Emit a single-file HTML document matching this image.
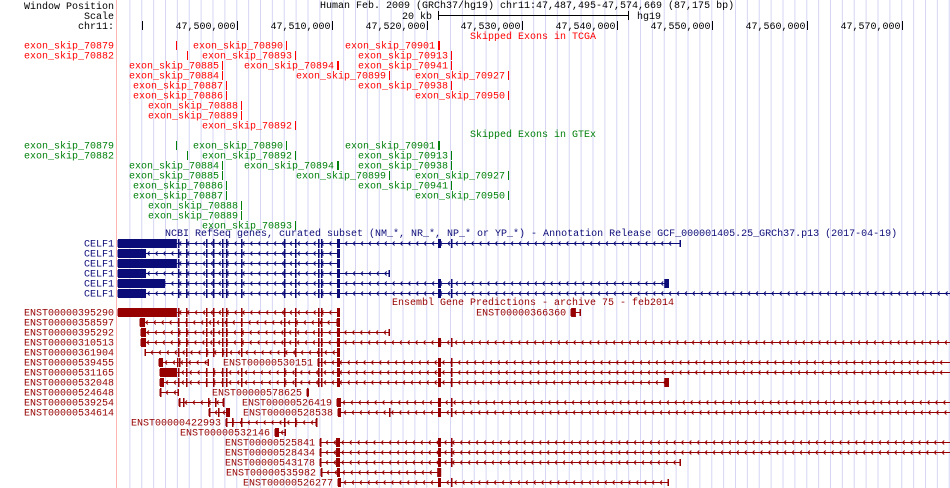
<!DOCTYPE html>
<html><head><meta charset="utf-8">
<style>
html,body{margin:0;padding:0;background:#fff;width:950px;height:488px;overflow:hidden}
svg{display:block}
text{font-family:"Liberation Mono",monospace;font-size:10px}
</style></head>
<body>
<svg id="gb" width="950" height="488" xmlns="http://www.w3.org/2000/svg"></svg>
<script>
// ---- data (genomic coordinates in kb) ----
const rulerTicks=[47500,47510,47520,47530,47540,47550,47560,47570];
const tcgaNames=["70879","70890","70901","70882","70893","70913","70885","70894","70941","70884","70899","70927","70887","70938","70886","70950","70888","70889","70892"];
const tcgaRows=[0,0,0,1,1,1,2,2,2,3,3,3,4,4,5,5,6,7,8];
const tcgaPos=[47493.61,47505.18,47521.18,47494.76,47506.13,47522.55,47498.45,47510.55,47522.55,47498.45,47516.03,47528.55,47498.87,47522.55,47498.87,47528.55,47500.45,47500.45,47506.13];
const gtexNames=["70879","70890","70901","70882","70892","70913","70884","70894","70938","70885","70899","70927","70886","70941","70887","70950","70888","70889","70893"];
const gtexRows=[0,0,0,1,1,1,2,2,2,3,3,3,4,4,5,5,6,7,8];
const gtexPos=[47493.61,47505.18,47521.18,47494.76,47506.13,47522.55,47498.45,47510.55,47522.55,47498.45,47516.03,47528.55,47498.87,47522.55,47498.87,47528.55,47500.45,47500.45,47506.13];
const E=[47493.82,47494.66,47496.76,47497.5,47498.45,47498.87,47500.45,47504.97,47506.13,47508.55,47508.87,47510.55];
const L=[47521.18,47522.55];
const refseq=[
 {n:"CELF1",r:0,s:47487.5,e:47546.65,ts:47487.5,te:47493.7,ex:E.concat(L)},
 {n:"CELF1",r:1,s:47487.5,e:47510.7,ts:47487.5,te:47490.45,ex:E},
 {n:"CELF1",r:2,s:47487.5,e:47510.7,ts:47487.5,te:47493.7,ex:E},
 {n:"CELF1",r:3,s:47487.5,e:47516.03,ts:47487.5,te:47490.45,ex:E},
 {n:"CELF1",r:4,s:47487.5,e:47545.4,ts:47487.5,te:47492.45,ex:E.concat(L),box:[47545.0,47545.5]},
 {n:"CELF1",r:5,s:47487.5,e:47575.2,ts:47487.5,te:47490.45,ex:E.concat(L)}
];
const ensembl=[
 {n:"ENST00000395290",r:0,s:47487.5,e:47510.7,ts:47487.5,te:47493.7,ex:E,left:1},
 {n:"ENST00000366360",r:0,s:47535.2,e:47536.1,ts:47535.2,te:47535.7,ex:[]},
 {n:"ENST00000358597",r:1,s:47489.8,e:47510.55,ts:47489.8,te:47490.35,ex:E,left:1},
 {n:"ENST00000395292",r:2,s:47489.92,e:47516.03,ts:47489.92,te:47490.45,ex:E,left:1},
 {n:"ENST00000310513",r:3,s:47489.92,e:47575.2,ts:47489.92,te:47490.45,ex:E.concat(L),left:1},
 {n:"ENST00000361904",r:4,s:47490.34,e:47510.7,ts:0,te:0,ex:E,left:1},
 {n:"ENST00000539455",r:5,s:47491.82,e:47496.97,ts:47491.82,te:47492.15,ex:[47493.72,47493.9,47494.66],left:1},
 {n:"ENST00000530151",r:5,s:47508.55,e:47575.2,ts:0,te:0,ex:[47508.55,47508.87,47510.55].concat(L)},
 {n:"ENST00000531165",r:6,s:47491.92,e:47575.2,ts:47491.92,te:47493.71,ex:E.concat(L),left:1},
 {n:"ENST00000532048",r:7,s:47491.92,e:47545.4,ts:47491.92,te:47492.34,ex:E.concat(L),box:[47545.0,47545.5],left:1},
 {n:"ENST00000524648",r:8,s:47491.92,e:47493.82,ts:0,te:0,ex:[47491.92],left:1},
 {n:"ENST00000578625",r:8,s:47507.4,e:47507.5,ts:0,te:0,ex:[47507.4]},
 {n:"ENST00000539254",r:9,s:47493.92,e:47498.55,ts:0,te:0,ex:[47493.92,47494.3,47496.97,47497.7,47498.55],left:1},
 {n:"ENST00000526419",r:9,s:47510.55,e:47575.2,ts:47510.55,te:47510.9,ex:L},
 {n:"ENST00000534614",r:10,s:47497.08,e:47499.18,ts:47498.87,te:47499.18,ex:[47497.08,47498.0],left:1},
 {n:"ENST00000528538",r:10,s:47510.66,e:47575.2,ts:0,te:0,ex:[47510.66,47516.03].concat(L)},
 {n:"ENST00000422993",r:11,s:47498.87,e:47508.34,ts:0,te:0,ex:[47498.87,47499.5,47500.45,47504.97,47506.13,47508.34]},
 {n:"ENST00000532146",r:12,s:47504.03,e:47505.08,ts:47504.03,te:47504.45,ex:[]},
 {n:"ENST00000525841",r:13,s:47508.76,e:47575.2,ts:47510.45,te:47510.8,ex:[47508.76].concat(L)},
 {n:"ENST00000528434",r:14,s:47508.76,e:47575.2,ts:47510.45,te:47510.8,ex:[47508.76].concat(L)},
 {n:"ENST00000543178",r:15,s:47508.76,e:47546.65,ts:47510.45,te:47510.8,ex:[47508.76].concat(L)},
 {n:"ENST00000535982",r:16,s:47508.87,e:47521.39,ts:47521.1,te:47521.39,ex:[47508.87,47510.55]},
 {n:"ENST00000526277",r:17,s:47510.66,e:47545.4,ts:0,te:0,ex:[47510.66].concat(L)}
];
// ---- drawing ----
const KB0=47487.5,PX=9.5,X0=118;
const x=k=>X0+(k-KB0)*PX;
const svg=document.getElementById('gb');
const NS="http://www.w3.org/2000/svg";
function mk(t,a,p){const e=document.createElementNS(NS,t);for(const k in a)e.setAttribute(k,a[k]);(p||svg).appendChild(e);return e;}
function txt(s,xx,y,anchor,fill,name){const t=mk('text',{x:xx,y:y,'text-anchor':anchor,fill:fill});t.textContent=s;


return t;}
// grid
for(let k=KB0+1.25;x(k)<950;k+=1.25){const l=mk('line',{x1:x(k),x2:x(k),y1:0,y2:488,stroke:'#d6d6f4','stroke-width':1});

}
const pl=mk('line',{x1:116.5,x2:116.5,y1:0,y2:488,stroke:'#ffb4b4','stroke-width':1});


// header
txt("Window Position",114,9,'end','#000','window-position-label');
txt("Scale",114,19,'end','#000','scale-label');
txt("chr11:",114,29,'end','#000','chr-label');
txt("Human Feb. 2009 (GRCh37/hg19)   chr11:47,487,495-47,574,669 (87,175 bp)",320,8,'start','#000','position-title');
txt("20 kb",432,19,'end','#000','scale-text');
mk('line',{x1:438,x2:628,y1:15.5,y2:15.5,stroke:'#000'});
mk('line',{x1:438.5,x2:438.5,y1:11,y2:20,stroke:'#000'});
mk('line',{x1:628.5,x2:628.5,y1:11,y2:20,stroke:'#000'});
txt("hg19",637,19,'start','#000','assembly-label');
mk('line',{x1:142.5,x2:142.5,y1:21,y2:30,stroke:'#000'});
rulerTicks.forEach(k=>{const xx=Math.round(x(k))+0.5;mk('line',{x1:xx,x2:xx,y1:21,y2:30,stroke:'#000'});
txt(k.toLocaleString('en-US')+",000",xx-2,29,'end','#000','ruler-tick-label');});
// skipped exon tracks
function skipTrack(names,rows,pos,y0,col,title,ty){
 txt(title,533,ty,'middle',col,'track-title');
 names.forEach((n,i)=>{const xx=Math.round(x(pos[i]));const yc=y0+rows[i]*10;
  const thick=(n==="70901"||n==="70894");
  const b=mk('rect',{x:xx,y:yc-4,width:thick?2:1,height:9,fill:col});
  
  
  const lab="exon_skip_"+n;
  if(xx<190) txt(lab,114,yc+3.5,'end',col,'exon-skip-label');
  else txt(lab,xx-3,yc+3.5,'end',col,'exon-skip-label');
 });
}
skipTrack(tcgaNames,tcgaRows,tcgaPos,45,'#ff0000',"Skipped Exons in TCGA",39);
skipTrack(gtexNames,gtexRows,gtexPos,145,'#00800a',"Skipped Exons in GTEx",137);
// genes
function gene(g,y0,col){
 const yc=y0+g.r*10;const xs=Math.max(x(g.s),118),xe=Math.min(x(g.e),950);
 const grp=mk('g',{});
 
 
 mk('line',{x1:xs,x2:xe,y1:yc+0.5,y2:yc+0.5,stroke:col,'stroke-width':1},grp);
 for(let c=xs+6;c<xe-3;c+=7.9){mk('path',{d:`M${c+2},${yc-1.5}L${c},${yc+0.5}L${c+2},${yc+2.5}`,stroke:col,fill:'none','stroke-width':1},grp);}
 [g.s,g.e].forEach(k=>{const xx=x(k);if(xx>=118&&xx<=950)mk('rect',{x:Math.round(xx)-0.5,y:yc-3,width:1.5,height:7,fill:col},grp);});
 g.ex.forEach(k=>{const xx=Math.round(x(k));const big=Math.abs(k-47510.55)<0.2||Math.abs(k-47521.18)<0.05;
  mk('rect',{x:xx,y:yc-4,width:big?3:1.5,height:9,fill:col},grp);});
 if(g.te>g.ts){mk('rect',{x:Math.max(x(g.ts),118),y:yc-4,width:Math.max(x(g.te)-Math.max(x(g.ts),118),4),height:9,fill:col},grp);}
 if(g.box){mk('rect',{x:x(g.box[0]),y:yc-4,width:Math.max(x(g.box[1])-x(g.box[0]),4),height:9,fill:col},grp);}
 if(g.left||g.s<=KB0) txt(g.n,114,yc+3.5,'end',col,'gene-label');
 else txt(g.n,x(g.s)-5,yc+3.5,'end',col,'gene-label');
}
txt("NCBI RefSeq genes, curated subset (NM_*, NR_*, NP_* or YP_*) - Annotation Release GCF_000001405.25_GRCh37.p13 (2017-04-19)",165,236,'start','#0c0c78','refseq-title');
refseq.forEach(g=>gene(g,243,'#0c0c78'));
txt("Ensembl Gene Predictions - archive 75 - feb2014",533,305,'middle','#960000','ensembl-title');
ensembl.forEach(g=>gene(g,312,'#960000'));
</script>
</body></html>
